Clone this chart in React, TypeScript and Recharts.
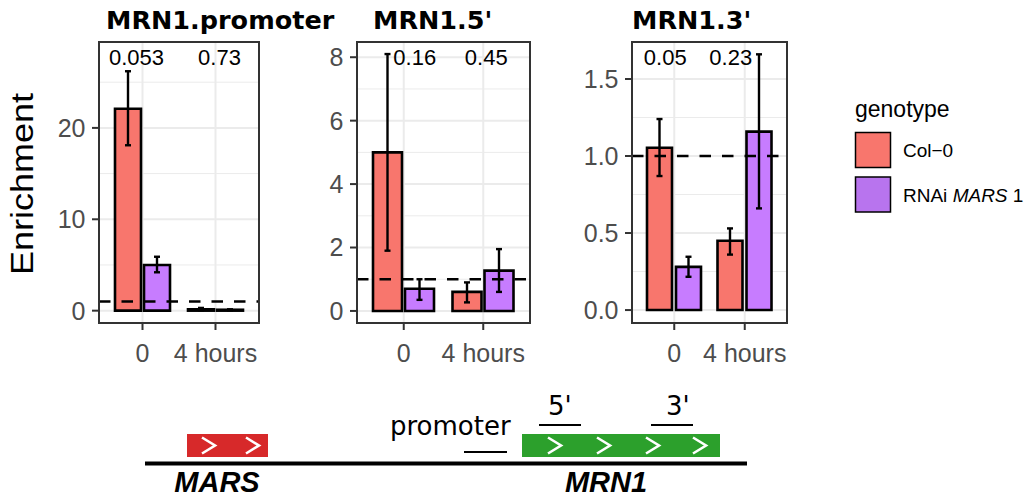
import React from 'react';
import {
  ComposedChart,
  Bar,
  ErrorBar,
  XAxis,
  YAxis,
  CartesianGrid,
  ReferenceLine,
  ReferenceDot,
} from 'recharts';

// ---------- data ----------
const times = ['0', '4 hours'];
const genotypeNames = ['Col\u22120', 'RNAi MARS 1'];

// MRN1.promoter
const promCol = [22.1, 0.15];
const promColLo = [18.1, 0.05];
const promColHi = [26.2, 0.3];
const promRnai = [5.0, 0.1];
const promRnaiLo = [4.2, 0.05];
const promRnaiHi = [5.9, 0.15];
const promP = ['0.053', '0.73'];
const promPY = 27.7;
const promTicks = [0, 10, 20];
const promMinor = [5, 15, 25];

// MRN1.5'
const fiveCol = [5.0, 0.6];
const fiveColLo = [1.9, 0.27];
const fiveColHi = [8.1, 0.9];
const fiveRnai = [0.7, 1.27];
const fiveRnaiLo = [0.35, 0.6];
const fiveRnaiHi = [1.0, 1.95];
const fiveP = ['0.16', '0.45'];
const fivePY = 8.0;
const fiveTicks = [0, 2, 4, 6, 8];
const fiveMinor = [1, 3, 5, 7];

// MRN1.3'
const threeCol = [1.054, 0.45];
const threeColLo = [0.87, 0.36];
const threeColHi = [1.24, 0.53];
const threeRnai = [0.28, 1.158];
const threeRnaiLo = [0.216, 0.66];
const threeRnaiHi = [0.346, 1.66];
const threeP = ['0.05', '0.23'];
const threePY = 1.64;
const threeTicks = [0, 0.5, 1.0, 1.5];
const threeMinor = [0.25, 0.75, 1.25];

const baseline = 1;

// ---------- styles ----------
const COL_FILL = '#F8766D';
const RNAI_FILL = '#C77CFF';
const GRID = '#EBEBEB';
const AXIS_TXT = '#4D4D4D';
const SANS = '"Liberation Sans", Arial, sans-serif';
const DEJAVU = '"DejaVu Sans", sans-serif';

type PanelCfg = {
  title: string;
  titleX: number;
  col: number[];
  colLo: number[];
  colHi: number[];
  rnai: number[];
  rnaiLo: number[];
  rnaiHi: number[];
  p: string[];
  pY: number;
  pDx: number[];
  ticks: number[];
  minor: number[];
  domain: [number, number];
  fmt: (v: number) => string;
  left: number;
  yW: number;
  width: number;
  right: number;
  barSize: number;
  gap: number;
};

const TOP = 42;
const CH = 370;
const XH = 47;

const panels: PanelCfg[] = [
  {
    title: 'MRN1.promoter',
    titleX: 106,
    col: promCol, colLo: promColLo, colHi: promColHi,
    rnai: promRnai, rnaiLo: promRnaiLo, rnaiHi: promRnaiHi,
    p: promP, pY: promPY, pDx: [-6, 4],
    ticks: promTicks, minor: promMinor,
    domain: [-1.35, 29.4],
    fmt: (v) => String(v),
    left: 0, yW: 99, width: 270, right: 11, barSize: 26, gap: 3,
  },
  {
    title: "MRN1.5'",
    titleX: 373,
    col: fiveCol, colLo: fiveColLo, colHi: fiveColHi,
    rnai: fiveRnai, rnaiLo: fiveRnaiLo, rnaiHi: fiveRnaiHi,
    p: fiveP, pY: fivePY, pDx: [11, 3],
    ticks: fiveTicks, minor: fiveMinor,
    domain: [-0.38, 8.48],
    fmt: (v) => String(v),
    left: 280, yW: 77, width: 260, right: 10, barSize: 29, gap: 3,
  },
  {
    title: "MRN1.3'",
    titleX: 632,
    col: threeCol, colLo: threeColLo, colHi: threeColHi,
    rnai: threeRnai, rnaiLo: threeRnaiLo, rnaiHi: threeRnaiHi,
    p: threeP, pY: threePY, pDx: [-9, -14],
    ticks: threeTicks, minor: threeMinor,
    domain: [-0.084, 1.74],
    fmt: (v) => v.toFixed(1),
    left: 560, yW: 72, width: 237, right: 10, barSize: 25, gap: 4,
  },
];

function Panel({ cfg }: { cfg: PanelCfg }) {
  const rows = times.map((t, i) => ({
    time: t,
    col: cfg.col[i],
    colErr: [cfg.col[i] - cfg.colLo[i], cfg.colHi[i] - cfg.col[i]],
    rnai: cfg.rnai[i],
    rnaiErr: [cfg.rnai[i] - cfg.rnaiLo[i], cfg.rnaiHi[i] - cfg.rnai[i]],
  }));
  const tickStyle = { fill: AXIS_TXT, fontSize: 25, fontFamily: SANS };
  return (
    <div style={{ position: 'absolute', left: cfg.left, top: 0 }}>
      <ComposedChart
        width={cfg.width}
        height={CH}
        data={rows}
        margin={{ top: TOP, right: cfg.right, bottom: 0, left: 0 }}
        barGap={cfg.gap}
        barSize={cfg.barSize}
      >
        <CartesianGrid
          horizontalValues={cfg.minor}
          vertical={false}
          stroke={GRID}
          strokeWidth={1}
        />
        <CartesianGrid stroke={GRID} strokeWidth={2} />
        <XAxis
          dataKey="time"
          type="category"
          padding={{ left: 7, right: 7 }}
          tickSize={7}
          tickMargin={14}
          axisLine={false}
          tickLine={{ stroke: '#333', strokeWidth: 2 }}
          tick={tickStyle}
          height={XH}
          interval={0}
        />
        <YAxis
          type="number"
          domain={cfg.domain}
          ticks={cfg.ticks}
          allowDataOverflow
          width={cfg.yW}
          tickSize={7}
          tickMargin={6.5}
          axisLine={false}
          tickLine={{ stroke: '#333', strokeWidth: 2 }}
          tick={tickStyle}
          tickFormatter={cfg.fmt}
        />
        <Bar dataKey="col" fill={COL_FILL} stroke="#000" strokeWidth={2.6} isAnimationActive={false}>
          <ErrorBar dataKey="colErr" width={3} stroke="#000" strokeWidth={2.4} />
        </Bar>
        <Bar dataKey="rnai" fill={RNAI_FILL} stroke="#000" strokeWidth={2.6} isAnimationActive={false}>
          <ErrorBar dataKey="rnaiErr" width={3} stroke="#000" strokeWidth={2.4} />
        </Bar>
        <ReferenceLine y={baseline} stroke="#000" strokeWidth={2.4} strokeDasharray="11.5 11" />
        {times.map((t, i) => (
          <ReferenceDot
            key={t}
            x={t}
            y={cfg.pY}
            r={0}
            fill="none"
            stroke="none"
            label={(p: any) => {
              const vb = p.viewBox || {};
              const cx = (vb.x ?? 0) + (vb.width ?? 0) / 2 + cfg.pDx[i];
              const cy = (vb.y ?? 0) + (vb.height ?? 0) / 2;
              return (
                <text
                  x={cx}
                  y={cy}
                  dy="0.36em"
                  textAnchor="middle"
                  fontSize={22}
                  fontFamily={SANS}
                  fill="#000"
                >
                  {cfg.p[i]}
                </text>
              );
            }}
          />
        ))}
      </ComposedChart>
    </div>
  );
}

function Chevron({ x, cy }: { x: number; cy: number }) {
  return (
    <polyline
      points={`${x},${cy - 8} ${x + 13},${cy} ${x},${cy + 8}`}
      fill="none"
      stroke="#fff"
      strokeWidth={2.6}
    />
  );
}

export default function App() {
  return (
    <div
      style={{
        position: 'absolute',
        left: 0,
        top: 0,
        width: 1028,
        height: 498,
        overflow: 'hidden',
        background: '#fff',
        fontFamily: SANS,
      }}
    >
      {panels.map((c) => (
        <Panel key={c.title} cfg={c} />
      ))}
      <svg
        width={1028}
        height={498}
        style={{ position: 'absolute', left: 0, top: 0, pointerEvents: 'none' }}
      >
        {panels.map((c) => (
          <g key={c.title}>
            <rect
              x={c.left + c.yW}
              y={TOP}
              width={c.width - c.yW - c.right}
              height={CH - XH - TOP}
              fill="none"
              stroke="#333"
              strokeWidth={2}
            />
            <text x={c.titleX} y={29} fontFamily={DEJAVU} fontWeight="bold" fontSize={25.5} fill="#000">
              {c.title}
            </text>
          </g>
        ))}
        <text
          transform="translate(33,184) rotate(-90)"
          textAnchor="middle"
          fontFamily={SANS}
          fontSize={32}
          textLength={182}
          lengthAdjust="spacingAndGlyphs"
          fill="#000"
        >
          Enrichment
        </text>

        {/* legend */}
        <text x={855} y={117} fontFamily={SANS} fontSize={23} fill="#000">genotype</text>
        <rect x={855.5} y={132.5} width={35} height={35} fill={COL_FILL} stroke="#000" strokeWidth={1.5} />
        <rect x={855.5} y={177} width={35} height={35} fill="#B874EE" stroke="#000" strokeWidth={1.5} />
        <text x={903} y={157} fontFamily={SANS} fontSize={19} fill="#000">{genotypeNames[0]}</text>
        <text x={903} y={201.5} fontFamily={SANS} fontSize={19} fill="#000">
          RNAi <tspan fontStyle="italic">MARS</tspan> 1
        </text>

        {/* gene diagram */}
        <line x1={145} y1={463.5} x2={747} y2={463.5} stroke="#000" strokeWidth={4} />
        <rect x={187} y={434} width={81} height={23} fill="#D7292A" />
        <Chevron x={202} cy={445.5} />
        <Chevron x={246} cy={445.5} />
        <rect x={522} y={434} width={198} height={23} fill="#2CA02C" />
        <Chevron x={548} cy={445.5} />
        <Chevron x={597} cy={445.5} />
        <Chevron x={646} cy={445.5} />
        <Chevron x={693} cy={445.5} />
        <text x={390} y={435} fontFamily={DEJAVU} fontSize={26} fill="#000">promoter</text>
        <line x1={464} y1={452} x2={507} y2={452} stroke="#000" strokeWidth={2} />
        <text x={548} y={415} fontFamily={DEJAVU} fontSize={26} fill="#000">5'</text>
        <line x1={539} y1={425} x2={581} y2={425} stroke="#000" strokeWidth={2} />
        <text x={666} y={415} fontFamily={DEJAVU} fontSize={26} fill="#000">3'</text>
        <line x1={651} y1={425} x2={693} y2={425} stroke="#000" strokeWidth={2} />
        <text x={217} y={492} textAnchor="middle" fontFamily={SANS} fontWeight="bold" fontStyle="italic" fontSize={29} fill="#000">
          MARS
        </text>
        <text x={606} y={492} textAnchor="middle" fontFamily={SANS} fontWeight="bold" fontStyle="italic" fontSize={29} fill="#000">
          MRN1
        </text>
      </svg>
    </div>
  );
}
